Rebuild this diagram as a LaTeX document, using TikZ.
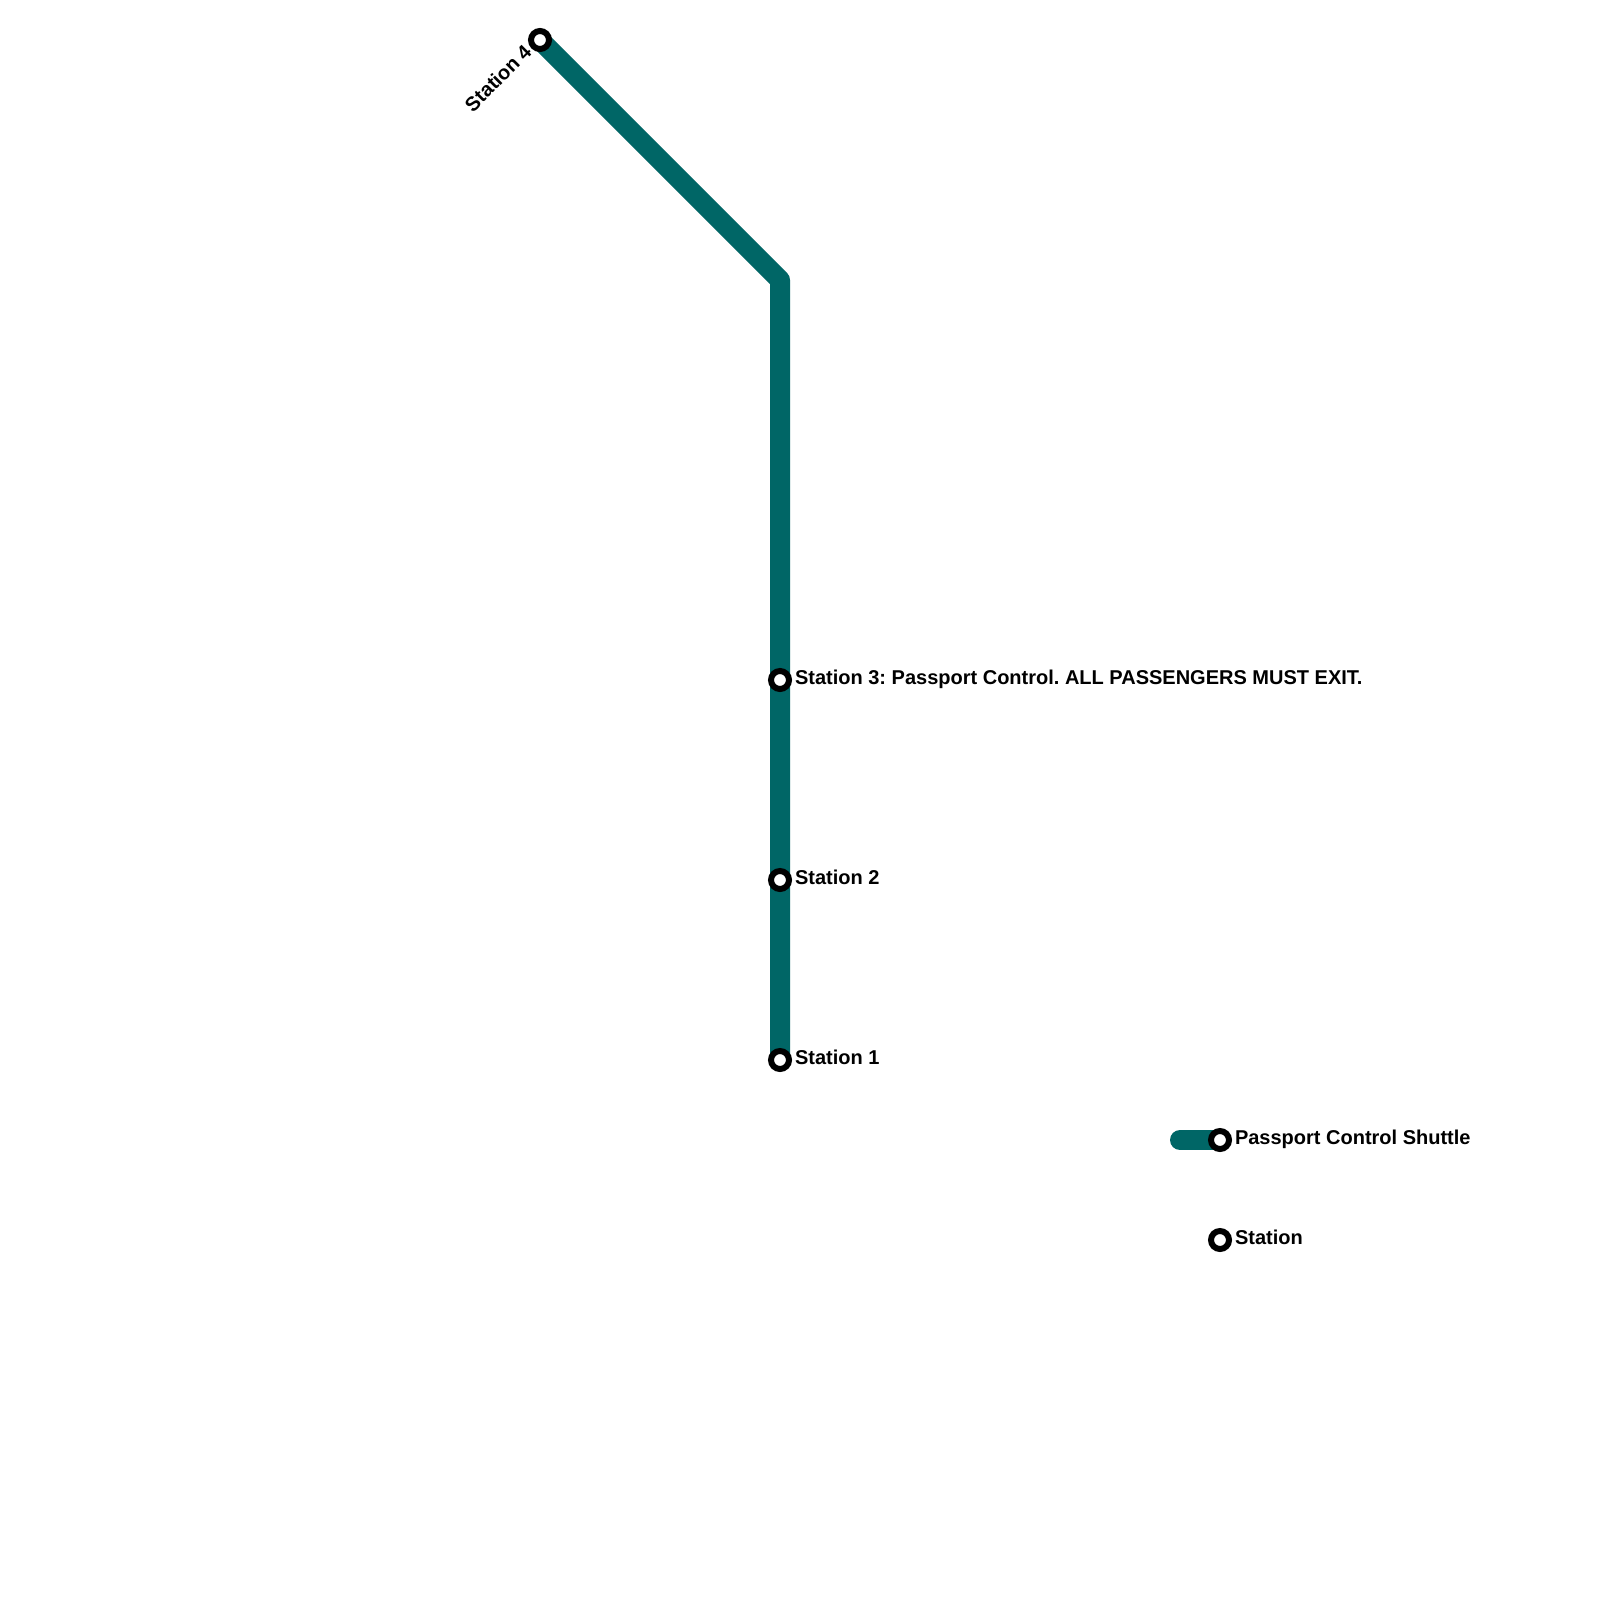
\documentclass[tikz,border=0pt]{standalone}
\usepackage{fontspec}
\setmainfont{Liberation Sans}
\tikzset{
  x=0.5pt,y=-0.5pt,
  stationdot/.style={circle,draw=black,fill=white,line width=3pt,inner sep=0pt,outer sep=0pt,minimum size=9pt},
  stationlabel/.style={inner sep=0pt,anchor=base west,font=\fontsize{10pt}{12pt}\selectfont\bfseries\frenchspacing,text=black},
  metroline/.style={draw=linecolor,line width=10pt,line cap=round,line join=round}
}
\definecolor{linecolor}{HTML}{006666}
\begin{document}
\begin{tikzpicture}
\useasboundingbox[fill=white] (0,0) rectangle (1600,1600);
\coordinate (bend) at (780,280);
\coordinate (legendstart) at (1180,1140);
\coordinate (s4pos) at (540,40);
\coordinate (s1pos) at (780,1060);
\coordinate (legendpos) at (1220,1140);
\draw[metroline] (s4pos) -- (bend) -- (s1pos);
\draw[metroline] (legendstart) -- (legendpos);
\node[stationdot] (s4) at (s4pos) {};
\node[stationdot] (s3) at (780,680) {};
\node[stationdot] (s2) at (780,880) {};
\node[stationdot] (s1) at (s1pos) {};
\node[stationdot] (legendline) at (legendpos) {};
\node[stationdot] (legendstation) at (1220,1240) {};
\node[stationlabel] (l3) at (794.6,684) {Station 3: Passport Control. ALL PASSENGERS MUST EXIT.};
\node[stationlabel] (l2) at (794.6,884) {Station 2};
\node[stationlabel] (l1) at (794.6,1064) {Station 1};
\node[stationlabel] (ll) at (1234.6,1144) {Passport Control Shuttle};
\node[stationlabel] (ls) at (1234.6,1244) {Station};
\node[stationlabel,anchor=base east,rotate=45] (l4) at (533,53) {Station 4};
\end{tikzpicture}
\end{document}
